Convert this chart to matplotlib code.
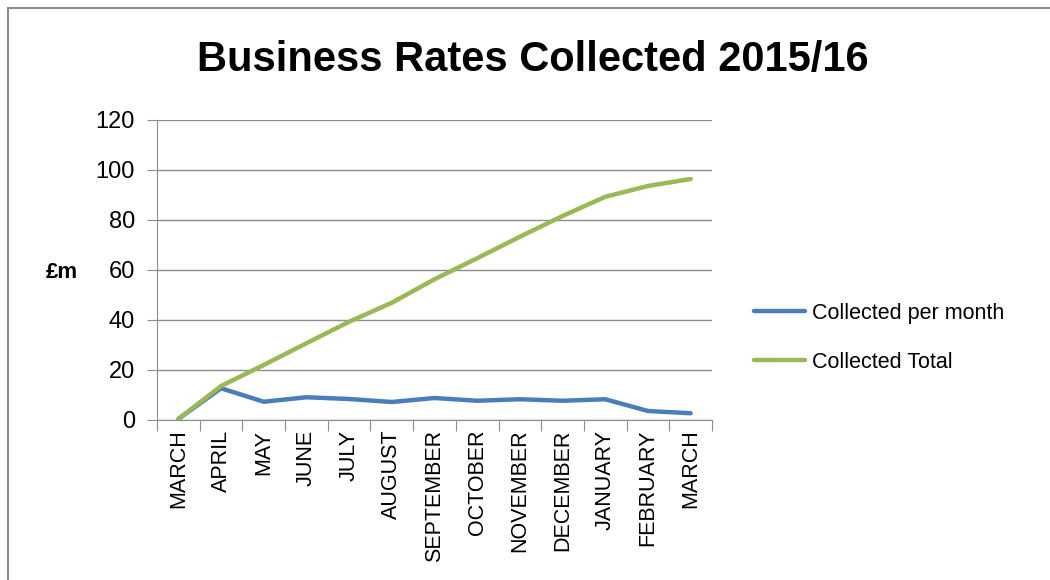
import matplotlib
matplotlib.use("Agg")
import matplotlib.pyplot as plt
from matplotlib.patches import Rectangle

months = ["MARCH", "APRIL", "MAY", "JUNE", "JULY", "AUGUST", "SEPTEMBER",
          "OCTOBER", "NOVEMBER", "DECEMBER", "JANUARY", "FEBRUARY", "MARCH"]
per_month = [0.4, 12.7, 7.3, 9.1, 8.4, 7.2, 8.8, 7.7, 8.3, 7.7, 8.3, 3.6, 2.7]
total = [0.4, 13.6, 22.0, 30.7, 39.3, 46.9, 56.3, 64.7, 73.3, 81.6, 89.3, 93.6, 96.4]
y_ticks = [0, 20, 40, 60, 80, 100, 120]

plt.rcParams['font.family'] = ['Liberation Sans', 'DejaVu Sans']

fig = plt.figure(figsize=(10.5, 5.8), dpi=100)
ax = fig.add_axes([157 / 1050, 1 - 420 / 580, 555 / 1050, 300 / 580])

# outer chart frame
fig.patches.append(Rectangle((8 / 1050, -0.1), 1.2, 1 - 8 / 580 + 0.1,
                             transform=fig.transFigure, fill=False,
                             edgecolor='#8c8c8c', linewidth=1.5))

x = list(range(len(months)))
ax.plot(x, per_month, color='#4a7ebb', linewidth=3.2, label='Collected per month',
        solid_capstyle='round', solid_joinstyle='round')
ax.plot(x, total, color='#98b954', linewidth=3.2, label='Collected Total',
        solid_capstyle='round', solid_joinstyle='round')

ax.set_xlim(-0.5, len(months) - 0.5)
ax.set_ylim(0, 120)
ax.set_yticks(y_ticks)
ax.yaxis.grid(True, color='#8c8c8c', linewidth=1)
ax.set_axisbelow(True)
for s in ['top', 'right']:
    ax.spines[s].set_visible(False)
ax.spines['left'].set_color('#8c8c8c')
ax.spines['bottom'].set_color('#8c8c8c')

ax.set_xticks([i - 0.5 for i in range(len(months) + 1)], minor=False)
ax.set_xticklabels([])
ax.set_xticks(x, minor=True)
ax.set_xticklabels(months, minor=True, rotation=90, va='top', fontsize=15.5)
ax.tick_params(axis='x', which='major', length=8, color='#8c8c8c')
ax.tick_params(axis='x', which='minor', length=0, pad=7)
ax.tick_params(axis='y', length=7, color='#8c8c8c', labelsize=17, pad=9)

fig.text(533 / 1050, 1 - 60 / 580, 'Business Rates Collected 2015/16',
         ha='center', va='center', fontsize=30, fontweight='bold')
fig.text(62 / 1050, 1 - 273 / 580, '£m', ha='center', va='center',
         fontsize=16, fontweight='bold')

ax.legend(loc='center left', bbox_to_anchor=(735 / 1050, 1 - 338 / 580),
          bbox_transform=fig.transFigure, frameon=False, fontsize=15.5,
          handlelength=2.35, labelspacing=1.3, handletextpad=0.35)

fig.savefig('out.png', dpi=100)
